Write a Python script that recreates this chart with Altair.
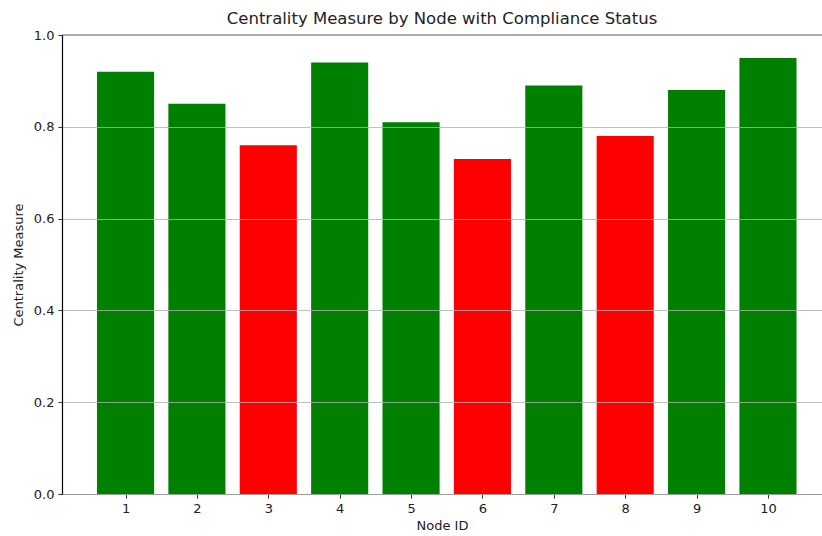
import altair as alt
import pandas as pd

nodes = [1, 2, 3, 4, 5, 6, 7, 8, 9, 10]
centrality = [0.92, 0.85, 0.76, 0.94, 0.81, 0.73, 0.89, 0.78, 0.88, 0.95]
status = ["Compliant", "Compliant", "Non-compliant", "Compliant", "Compliant",
          "Non-compliant", "Compliant", "Non-compliant", "Compliant", "Compliant"]

df = pd.DataFrame({"node": nodes, "value": centrality, "status": status})

FONT = "DejaVu Sans"
xscale = alt.Scale(domain=[0.11, 10.757], nice=False, zero=False)
yscale = alt.Scale(domain=[0, 1], nice=False, padding=0)

bars = alt.Chart(df).transform_calculate(
    x0="datum.node - 0.4", x1="datum.node + 0.4"
).mark_bar(stroke=None).encode(
    x=alt.X("x0:Q", scale=xscale,
            axis=alt.Axis(values=nodes, format="d", title="Node ID", grid=False,
                          domainColor="#555555", domainWidth=1.2,
                          tickColor="#333333", tickSize=4, labelPadding=4,
                          labelFontSize=13, titleFontSize=13, titleFont=FONT,
                          labelFont=FONT, labelColor="#222222", titleColor="#222222",
                          titleFontWeight="normal", titlePadding=4)),
    x2="x1:Q",
    y=alt.Y("value:Q", scale=yscale,
            axis=alt.Axis(values=[0, 0.2, 0.4, 0.6, 0.8, 1.0], format=".1f",
                          title="Centrality Measure", grid=True, gridColor="#b0b0b0",
                          gridWidth=0.8, zindex=1,
                          domainColor="#000000", domainWidth=1.2,
                          tickColor="#333333", tickSize=4, labelPadding=4,
                          labelFontSize=13, titleFontSize=13, titleFont=FONT,
                          labelFont=FONT, labelColor="#222222", titleColor="#222222",
                          titleFontWeight="normal", titlePadding=8)),
    y2=alt.datum(0),
    color=alt.Color("status:N",
                    scale=alt.Scale(domain=["Compliant", "Non-compliant"],
                                    range=["#008000", "#ff0000"]),
                    legend=None),
)

top = alt.Chart(pd.DataFrame({"a": [1]})).mark_rule(color="#555555", strokeWidth=1.2).encode(
    x=alt.value(0), x2=alt.value(760), y=alt.value(0)
)

chart = alt.layer(bars, top).properties(
    width=760, height=459,
    title=alt.TitleParams("Centrality Measure by Node with Compliance Status",
                          font=FONT, fontSize=16.5, fontWeight="normal",
                          color="#222222", anchor="middle", offset=2),
    autosize=alt.AutoSizeParams(type="none"),
    padding={"left": 62, "top": 35, "right": 0, "bottom": 42},
).configure_view(stroke=None).configure(background="white")

chart.save("out.html", embed_options={"renderer": "svg", "actions": False})
